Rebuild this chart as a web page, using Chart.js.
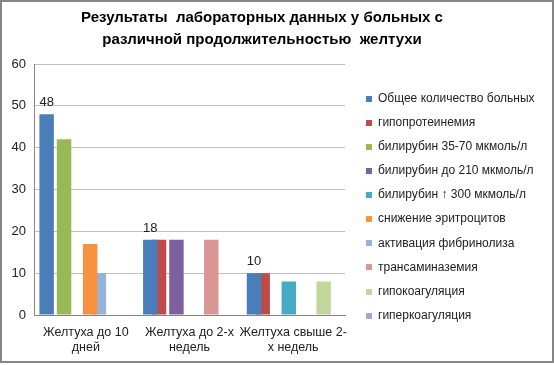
<!DOCTYPE html>
<html>
<head>
<meta charset="utf-8">
<script src="https://cdn.jsdelivr.net/npm/chart.js@4.4.1/dist/chart.umd.min.js"></script>
<style>
  html, body { margin: 0; padding: 0; background: #fff; }
  #box { position: relative; width: 550px; height: 359px; border: 2px solid #868686; }
  #legend { position: absolute; left: 364px; top: 89px; }
  #legend .item {
    height: 24.1px; line-height: 24.1px; white-space: nowrap;
    font: 12px "Liberation Sans"; color: #222;
  }
  #legend .swatch {
    display: inline-block; width: 6px; height: 6px;
    margin-right: 6px; vertical-align: middle;
  }
</style>
</head>
<body>
<div id="box">
  <canvas id="chart" width="550" height="359"></canvas>
  <div id="legend"></div>
</div>
<script>
// categories (two-line labels as in the original)
var categories = [
  ['Желтуха до 10', 'дней'],
  ['Желтуха до 2-х', 'недель'],
  ['Желтуха свыше 2-', 'х недель']
];

// series values, one array per indicator
var total        = [48, 18, 10];
var hypoprotein  = [0, 18, 10];
var bili35to70   = [42, 0, 0];
var bili210      = [0, 18, 0];
var bili300      = [0, 0, 8];
var lowRbc       = [17, 0, 0];
var fibrinolysis = [10, 0, 0];
var transaminase = [0, 18, 0];
var hypocoag     = [0, 0, 8];
var hypercoag    = [0, 0, 0];

var seriesNames = [
  'Общее количество больных',
  'гипопротеинемия',
  'билирубин 35-70 мкмоль/л',
  'билирубин до 210 мкмоль/л',
  'билирубин \u2191 300 мкмоль/л',
  'снижение эритроцитов',
  'активация фибринолиза',
  'трансаминаземия',
  'гипокоагуляция',
  'гиперкоагуляция'
];
var seriesValues = [total, hypoprotein, bili35to70, bili210, bili300,
                    lowRbc, fibrinolysis, transaminase, hypocoag, hypercoag];
var seriesColors = ['#4A7EBB', '#BE4B48', '#98B954', '#7D60A0', '#46AAC5',
                    '#F69240', '#95B3D7', '#D99694', '#C3D69B', '#B3A2C7'];

// y axis ticks
var yMin = 0, yMax = 60, yStep = 10;

var font = 'Liberation Sans';

var datasets = [];
for (var i = 0; i < seriesNames.length; i++) {
  datasets.push({
    label: seriesNames[i],
    data: seriesValues[i],
    backgroundColor: seriesColors[i],
    borderWidth: 0,
    categoryPercentage: 0.84,
    barPercentage: 1.66
  });
}

// value labels over the first series only
var valueLabels = {
  id: 'valueLabels',
  afterDatasetsDraw: function(chart) {
    var ctx = chart.ctx;
    var meta = chart.getDatasetMeta(0);
    ctx.save();
    ctx.font = '13px "' + font + '"';
    ctx.fillStyle = '#222';
    ctx.textAlign = 'center';
    ctx.textBaseline = 'alphabetic';
    meta.data.forEach(function(bar, i) {
      ctx.fillText(total[i], bar.x, bar.y - 8);
    });
    ctx.restore();
  }
};

// legend as html list (built-in one gets squeezed to half the width)
var htmlLegend = {
  id: 'htmlLegend',
  afterUpdate: function(chart) {
    var list = document.getElementById('legend');
    list.innerHTML = '';
    var items = chart.options.plugins.legend.labels.generateLabels(chart);
    items.forEach(function(item) {
      var row = document.createElement('div');
      row.className = 'item';
      var sw = document.createElement('span');
      sw.className = 'swatch';
      sw.style.background = item.fillStyle;
      row.appendChild(sw);
      row.appendChild(document.createTextNode(item.text));
      list.appendChild(row);
    });
  }
};

// title is centred over plot + legend, a bit left of the middle
var nudge = {
  id: 'nudge',
  afterLayout: function(chart) {
    chart.titleBlock.left = 0;
    chart.titleBlock.right = chart.width - 30;
  }
};

var ctx = document.getElementById('chart').getContext('2d');
var chartObj = new Chart(ctx, {
  type: 'bar',
  data: { labels: categories, datasets: datasets },
  options: {
    responsive: false,
    animation: false,
    layout: { padding: { left: 0, right: 207, top: 0, bottom: 0 } },
    plugins: {
      title: {
        display: true,
        text: ['Результаты  лабораторных данных у больных с', 'различной продолжительностью  желтухи'],
        color: '#000',
        font: { family: font, size: 15, weight: 'bold', lineHeight: '22px' },
        padding: { top: 5, bottom: 13 }
      },
      legend: { display: false },
      tooltip: { enabled: false }
    },
    scales: {
      x: {
        grid: { display: false, drawTicks: false },
        border: { color: '#868686' },
        ticks: {
          color: '#222',
          padding: 10,
          maxRotation: 0,
          autoSkip: false,
          font: { family: font, size: 12.5, lineHeight: 1.2 }
        },
        afterFit: function(scale) { scale.height = 46; }
      },
      y: {
        min: yMin,
        max: yMax,
        grid: { color: '#BFBFBF', drawTicks: false },
        border: { color: '#868686' },
        ticks: {
          stepSize: yStep,
          color: '#222',
          padding: 8,
          font: { family: font, size: 13 }
        },
        afterFit: function(scale) { scale.width = 32; }
      }
    }
  },
  plugins: [valueLabels, htmlLegend, nudge]
});
</script>
</body>
</html>
